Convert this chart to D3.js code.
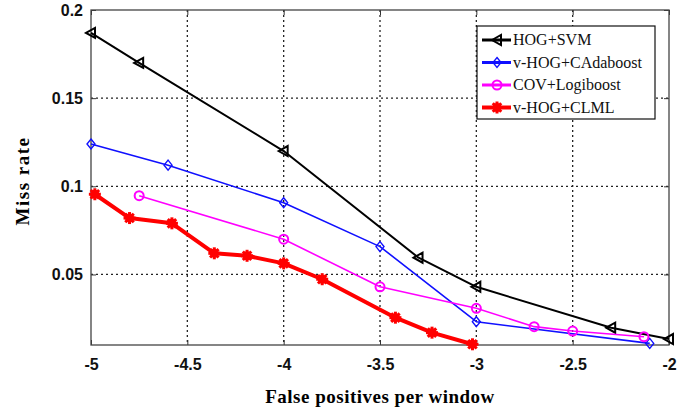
<!DOCTYPE html>
<html>
<head>
<meta charset="utf-8">
<script src="https://cdn.jsdelivr.net/npm/d3@7"></script>
<style>
body{margin:0;background:#fff}
.tick text{font-family:"Liberation Sans",Arial,sans-serif;font-weight:bold;font-size:16px;fill:#111}
</style>
</head>
<body>
<script>
var xTicks=[-5,-4.5,-4,-3.5,-3,-2.5,-2]
var yTicks=[0.05,0.1,0.15,0.2]
var seriesNames=["HOG+SVM","v-HOG+CAdaboost","COV+Logiboost","v-HOG+CLML"]
var hogSvmX=[-5,-4.75,-4,-3.3,-3,-2.3,-2]
var hogSvmY=[0.187,0.170,0.120,0.0595,0.043,0.0198,0.0134]
var vhogCadaX=[-5,-4.6,-4,-3.5,-3,-2.1]
var vhogCadaY=[0.124,0.112,0.0907,0.0658,0.0232,0.0109]
var covLogiX=[-4.75,-4,-3.5,-3,-2.7,-2.5,-2.13]
var covLogiY=[0.0947,0.070,0.043,0.0308,0.0204,0.0179,0.0147]
var vhogClmlX=[-4.98,-4.8,-4.58,-4.36,-4.19,-4,-3.8,-3.42,-3.23,-3.02]
var vhogClmlY=[0.0955,0.082,0.079,0.062,0.0606,0.0563,0.0473,0.0255,0.017,0.0104]

var screen={width:692,height:413}
var margins={top:10,right:23,bottom:68,left:91}
var width=screen.width-margins.left-margins.right
var height=screen.height-margins.top-margins.bottom

var xScale=d3.scaleLinear().domain([-5,-2]).range([0,width])
var yScale=d3.scaleLinear().domain([0.01,0.2]).range([height,0])
var fmt=function(d){return String(d)}

var svg=d3.select("body").append("svg")
          .attr("width",screen.width)
          .attr("height",screen.height)
var plot=svg.append("g")
            .attr("transform","translate("+margins.left+","+margins.top+")")

// dotted grid
plot.selectAll(".gx").data(xTicks.slice(1,-1)).enter().append("line")
    .attr("x1",function(d){return xScale(d)}).attr("x2",function(d){return xScale(d)})
    .attr("y1",0).attr("y2",height)
    .attr("stroke","#222").attr("stroke-width",1.3).attr("stroke-dasharray","2,3")
plot.selectAll(".gy").data(yTicks.slice(0,-1)).enter().append("line")
    .attr("y1",function(d){return yScale(d)}).attr("y2",function(d){return yScale(d)})
    .attr("x1",0).attr("x2",width)
    .attr("stroke","#222").attr("stroke-width",1.3).attr("stroke-dasharray","2,3")

// axes with inward ticks
plot.append("g").attr("transform","translate(0,"+height+")")
    .call(d3.axisBottom(xScale).tickValues(xTicks).tickSizeInner(-5).tickSizeOuter(0).tickPadding(14).tickFormat(fmt))
plot.append("g")
    .call(d3.axisLeft(yScale).tickValues(yTicks).tickSizeInner(-5).tickSizeOuter(0).tickPadding(8).tickFormat(fmt))
plot.append("g")
    .call(d3.axisTop(xScale).tickValues(xTicks).tickSizeInner(-5).tickSizeOuter(0).tickFormat(""))
plot.append("g").attr("transform","translate("+width+",0)")
    .call(d3.axisRight(yScale).tickValues(yTicks).tickSizeInner(-5).tickSizeOuter(0).tickFormat(""))
plot.selectAll(".domain").remove()
plot.selectAll(".tick line").attr("stroke","#333")
plot.append("rect").attr("width",width).attr("height",height)
    .attr("fill","none").attr("stroke","#444").attr("stroke-width",1.3)

var series=[
  {name:seriesNames[0],xs:hogSvmX,ys:hogSvmY,color:"#000",lw:2,marker:"tri"},
  {name:seriesNames[1],xs:vhogCadaX,ys:vhogCadaY,color:"#1010ff",lw:1.6,marker:"diamond"},
  {name:seriesNames[2],xs:covLogiX,ys:covLogiY,color:"#ff00ff",lw:1.6,marker:"circle"},
  {name:seriesNames[3],xs:vhogClmlX,ys:vhogClmlY,color:"#ff0000",lw:4,marker:"star"}
]

var drawMarker=function(g,type,color,x,y){
  if(type=="tri"){
    g.append("path").attr("d","M"+(x-5)+","+y+"L"+(x+4)+","+(y-5)+"L"+(x+4)+","+(y+5)+"Z")
     .attr("fill","none").attr("stroke",color).attr("stroke-width",2)
  }else if(type=="diamond"){
    g.append("path").attr("d","M"+x+","+(y-5)+"L"+(x+4)+","+y+"L"+x+","+(y+5)+"L"+(x-4)+","+y+"Z")
     .attr("fill","none").attr("stroke",color).attr("stroke-width",1.4)
  }else if(type=="circle"){
    g.append("circle").attr("cx",x).attr("cy",y).attr("r",4.5)
     .attr("fill","none").attr("stroke",color).attr("stroke-width",2)
  }else{
    g.append("circle").attr("cx",x).attr("cy",y).attr("r",4.5).attr("fill",color)
    var a=[0,45,90,135]
    a.forEach(function(d){
      var r=d*Math.PI/180
      g.append("line").attr("x1",x-6*Math.cos(r)).attr("y1",y-6*Math.sin(r))
       .attr("x2",x+6*Math.cos(r)).attr("y2",y+6*Math.sin(r))
       .attr("stroke",color).attr("stroke-width",3)
    })
  }
}

series.forEach(function(s){
  var pts=s.xs.map(function(d,i){return [xScale(d),yScale(s.ys[i])]})
  var line=d3.line()
  var g=plot.append("g")
  g.append("path").attr("d",line(pts)).attr("fill","none")
   .attr("stroke",s.color).attr("stroke-width",s.lw).attr("stroke-linejoin","round")
  pts.forEach(function(p){drawMarker(g,s.marker,s.color,p[0],p[1])})
})

// legend
var legend=svg.append("g").attr("transform","translate(477,26)")
legend.append("rect").attr("width",178).attr("height",93)
      .attr("fill","#fff").attr("stroke","#111").attr("stroke-width",1.2)
series.forEach(function(s,i){
  var y=14+i*22.5
  var lg=legend.append("g")
  lg.append("line").attr("x1",5).attr("x2",34).attr("y1",y).attr("y2",y)
    .attr("stroke",s.color).attr("stroke-width",s.marker=="star"?4:3)
  drawMarker(lg,s.marker,s.color,20,y)
  lg.append("text").attr("x",36).attr("y",y+5).text(s.name)
    .attr("font-family","'Liberation Serif','Times New Roman',serif")
    .attr("font-size","16px").attr("fill","#111")
})

svg.append("text").attr("x",380).attr("y",403).attr("text-anchor","middle")
   .attr("font-family","'Liberation Serif','Times New Roman',serif")
   .attr("font-weight","bold").attr("font-size","19px").attr("letter-spacing","0.5px")
   .text("False positives per window")
svg.append("text").attr("transform","translate(29,181) rotate(-90)").attr("text-anchor","middle")
   .attr("font-family","'Liberation Serif','Times New Roman',serif")
   .attr("font-weight","bold").attr("font-size","19px").attr("letter-spacing","1.5px")
   .text("Miss rate")
</script>
</body>
</html>
